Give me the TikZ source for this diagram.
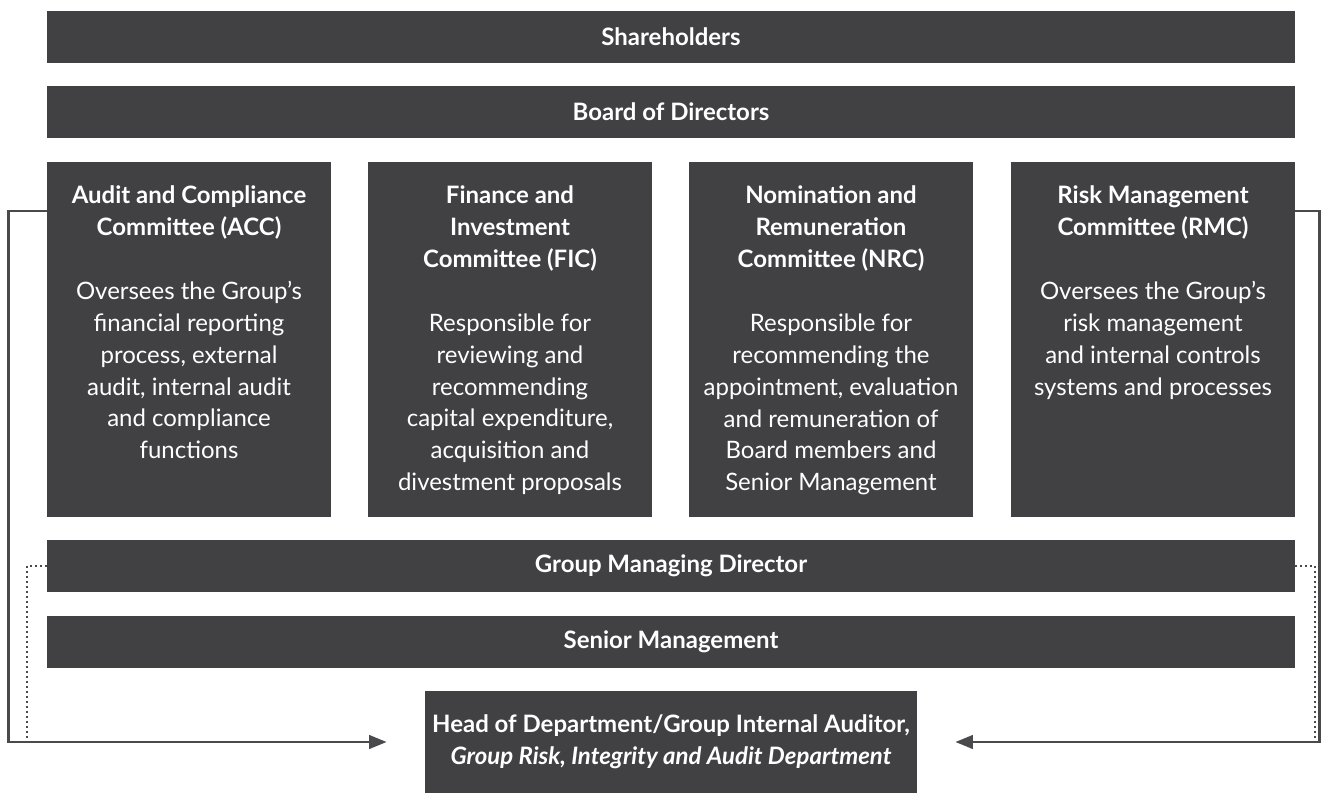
\documentclass[tikz,border=0pt]{standalone}
\usepackage{fontspec}
\setmainfont{Lato}
\usepackage{xcolor}
\usetikzlibrary{arrows.meta}
\definecolor{boxgrey}{HTML}{414042}
\definecolor{linegrey}{HTML}{4A4A4C}
\newcommand{\basefont}{\fontsize{13.65}{18.2}\selectfont}
\newcommand{\committee}[2]{\parbox[c][7.1cm][t]{5.6cm}{\centering\vspace*{0.46cm}\textbf{#1}\par\vspace{\baselineskip}#2}}

\begin{document}
\begin{tikzpicture}[x=0.02cm,y=-0.02cm,
    every node/.append style={font=\basefont},
    bar/.style={fill=boxgrey,text=white,inner sep=0pt,minimum width=24.96cm,minimum height=1.04cm,font=\basefont\bfseries},
    comm/.style={fill=boxgrey,text=white,inner sep=0pt,minimum width=5.68cm,anchor=north},
    link/.style={draw=linegrey,line width=1.7pt},
    dots/.style={draw=linegrey,line width=1.3pt,dash pattern=on 1.2pt off 1.65pt}]
    \useasboundingbox (0,0) rectangle (1321,793);

    \node (sh) at (671,37) [bar] {Shareholders};
    \node (bd) at (671,112) [bar] {Board of Directors};

    \node (acc) at (189,162) [comm] {\committee{Audit and Compliance\\Committee (ACC)}{Oversees the Group's\\financial reporting\\process, external\\audit, internal audit\\and compliance\\functions}};
    \node (fic) at (510,162) [comm] {\committee{Finance and\\Investment\\Committee (FIC)}{Responsible for\\reviewing and\\recommending\\capital expenditure,\\acquisition and\\divestment proposals}};
    \node (nrc) at (831,162) [comm] {\committee{Nomination and\\Remuneration\\Committee (NRC)}{Responsible for\\recommending the\\appointment, evaluation\\and remuneration of\\Board members and\\Senior Management}};
    \node (rmc) at (1153,162) [comm] {\committee{Risk Management\\Committee (RMC)}{Oversees the Group's\\risk management\\and internal controls\\systems and processes}};

    \node (gmd) at (671,566) [bar] {Group Managing Director};
    \node (sm) at (671,642) [bar] {Senior Management};
    \node (hd) at (671,742) [bar,minimum width=9.84cm,minimum height=2.04cm,align=center] {Head of Department/Group Internal Auditor,\\\textit{Group Risk, Integrity and Audit Department}};

    \draw[dots] (gmd.west) -- ++(-20,0) coordinate (gl) -- (gl |- hd.west);
    \draw[dots] (gmd.east) -- ++(20,0) coordinate (gr) -- (gr |- hd.east);
    \draw[link,-{Triangle[length=10pt,width=7.6pt]}] (acc.north west) ++(0,49) -- ++(-38,0) |- ([xshift=-0.76cm]hd.west);
    \draw[link,-{Triangle[length=10pt,width=7.6pt]}] (rmc.north east) ++(0,49) -- ++(24,0) |- ([xshift=0.76cm]hd.east);
\end{tikzpicture}
\end{document}
